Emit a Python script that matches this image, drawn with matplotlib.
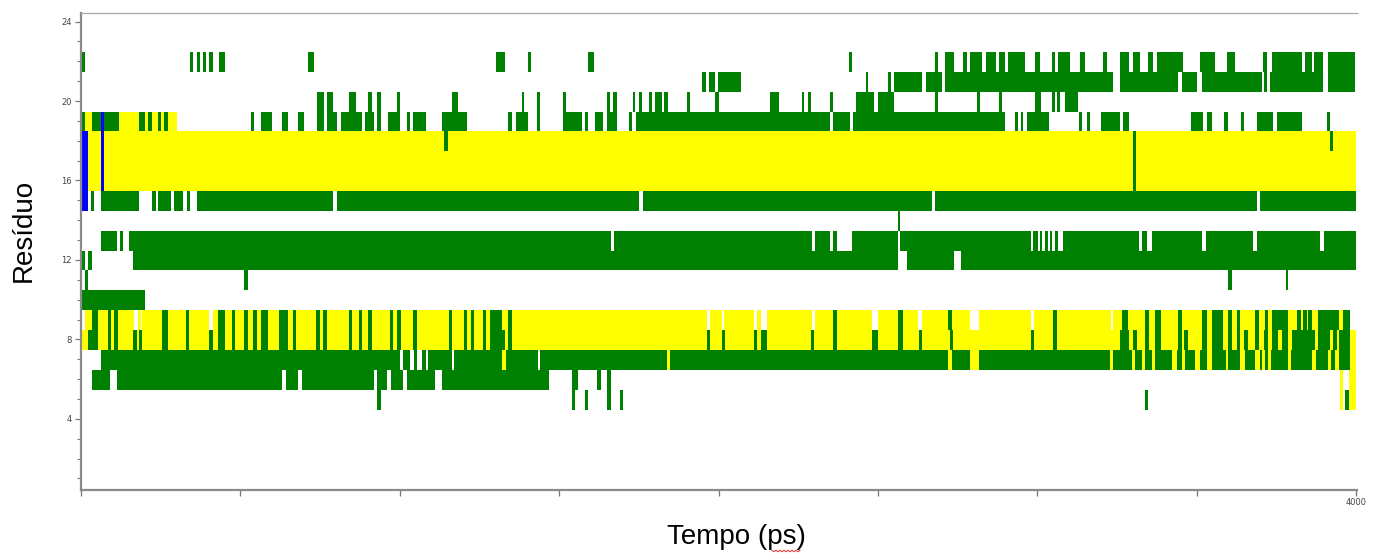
import matplotlib
matplotlib.use("Agg")
import matplotlib.pyplot as plt
from matplotlib.lines import Line2D
import numpy as np

# ---------------- data (time intervals in ps, per residue and state) ----------------
green_22 = [(0,13),(342,351),(364,373),(383,392),(402,414),(433,452),(712,731),(1302,1330),(1402,1412),(1591,1609),
            (2409,2419),(2679,2689),(2711,2739),(2767,2780),(2789,2827),(2839,2871),(2880,2899),(2908,2962),(2993,3009),
            (3046,3056),(3065,3103),(3134,3150),(3206,3219),(3260,3288),(3300,3322),(3347,3363),(3376,3457),(3510,3558),
            (3595,3620),(3708,3721),(3736,3830),(3840,3862),(3868,3896),(3912,3997)]
green_21 = [(1948,1961),(1970,1989),(1998,2070),(2463,2469),(2532,2541),(2550,2638),(2651,2701),(2710,3237),(3259,3441),
            (3454,3501),(3517,3705),(3711,3721),(3730,3896),(3912,3997)]
green_20 = [(740,762),(772,791),(841,863),(900,913),(929,941),(991,1001),(1164,1183),(1383,1390),(1430,1440),(1512,1521),
            (1650,1660),(1669,1681),(1732,1738),(1750,1760),(1782,1791),(1801,1823),(1829,1841),(1901,1910),(1989,2001),
            (2161,2190),(2262,2268),(2281,2290),(2350,2359),(2431,2488),(2500,2550),(2679,2689),(2811,2820),(2880,2889),
            (2993,3012),(3046,3056),(3062,3071),(3087,3128)]
yellow_19 = [(0,301)]
green_19 = [(0,13),(35,63),(72,119),(182,201),(210,223),(242,251),(260,273),(533,543),(565,599),(631,649),(681,700),
            (740,762),(772,803),(816,882),(891,919),(929,941),(963,1001),(1023,1032),(1042,1082),(1132,1211),(1340,1352),
            (1365,1402),(1430,1440),(1512,1572),(1581,1590),(1612,1638),(1650,1681),(1719,1729),(1741,2350),(2359,2412),
            (2422,2899),(2930,2939),(2949,2955),(2968,3037),(3131,3140),(3156,3165),(3200,3259),(3269,3288),(3482,3520),
            (3532,3548),(3586,3598),(3639,3648),(3689,3739),(3752,3830),(3909,3918)]
blue_19 = [(63,72)]
yellow_18 = [(0,4000)]
green_18 = [(1140,1150),(3300,3310),(3918,3928)]
blue_18 = [(0,22),(63,72)]
yellow_17 = [(0,4000)]
green_17 = [(3300,3310)]
blue_17 = [(0,22),(63,72)]
yellow_16 = [(0,4000)]
green_16 = [(3300,3310)]
blue_16 = [(0,22),(63,72)]
green_15 = [(31,41),(63,182),(223,235),(242,282),(292,320),(333,342),(364,791),(803,1750),(1763,2670),(2679,3689),(3699,4000)]
blue_15 = [(0,22)]
green_14 = [(2563,2569)]
green_13 = [(63,113),(122,132),(151,1663),(1672,2293),(2303,2350),(2359,2372),(2419,2563),(2569,2980),(2986,3002),
            (3008,3015),(3024,3034),(3040,3046),(3055,3065),(3081,3319),(3329,3344),(3360,3517),(3529,3677),(3689,3887),
            (3899,4000)]
green_12 = [(0,13),(22,35),(163,2563),(2591,2739),(2761,4000)]
green_11 = [(13,22),(511,524),(3598,3611),(3780,3786)]
green_10 = [(0,201)]
yellow_9 = [(13,166),(179,188),(191,402),(414,1964),(1973,2011),(2017,2111),(2121,2133),(2152,2293),(2303,2481),
            (2500,2626),(2638,2789),(2817,2980),(2990,3231),(3237,3981)]
green_9 = [(35,53),(85,94),(104,116),(254,273),(329,339),(430,452),(474,483),(511,524),(540,552),(565,587),(621,649),
           (665,674),(737,750),(759,772),(841,850),(872,882),(900,913),(969,979),(991,1004),(1042,1054),(1154,1164),
           (1201,1211),(1223,1233),(1261,1271),(1283,1321),(1340,1352),(2359,2372),(2563,2579),(2720,2732),(3049,3062),
           (3266,3285),(3338,3350),(3369,3388),(3441,3454),(3517,3532),(3548,3583),(3598,3611),(3626,3636),(3683,3695),
           (3714,3724),(3736,3786),(3815,3827),(3833,3846),(3849,3862),(3880,3946),(3959,3981)]
yellow_8 = [(0,4000)]
green_8 = [(22,53),(85,94),(104,116),(163,176),(182,191),(254,273),(329,339),(402,414),(430,452),(474,483),(511,524),
           (540,552),(565,587),(621,649),(665,674),(737,750),(759,772),(841,850),(872,882),(900,913),(969,979),(991,1004),
           (1042,1054),(1154,1164),(1201,1211),(1223,1233),(1261,1271),(1283,1330),(1340,1352),(1964,1973),(2011,2020),
           (2111,2121),(2133,2152),(2290,2299),(2359,2372),(2481,2500),(2563,2579),(2629,2638),(2726,2736),(2980,2990),
           (3049,3062),(3259,3288),(3300,3313),(3338,3350),(3369,3388),(3441,3454),(3460,3473),(3517,3532),(3548,3582),
           (3598,3611),(3626,3636),(3648,3661),(3683,3695),(3711,3724),(3736,3755),(3768,3786),(3799,3871),(3880,3918),
           (3928,3940),(3946,3981)]
yellow_7 = [(1321,1333),(1838,1848),(2720,2732),(2789,2817),(3228,4000)]
green_7 = [(63,1001),(1010,1032),(1045,1054),(1070,1082),(1089,1164),(1170,1321),(1333,1434),(1440,1838),(1848,2720),
           (2732,2789),(2817,3228),(3237,3297),(3307,3329),(3338,3360),(3369,3423),(3438,3454),(3463,3495),(3510,3532),
           (3548,3592),(3598,3636),(3652,3683),(3699,3705),(3714,3724),(3733,3786),(3796,3862),(3874,3912),(3921,3934),
           (3946,3981)]
yellow_6 = [(3950,3959),(3978,4000)]
green_6 = [(35,91),(113,631),(643,681),(693,919),(929,960),(973,1010),(1023,1111),(1132,1468),(1540,1559),(1619,1631),
           (1650,1663)]
yellow_5 = [(3950,3959),(3978,4000)]
green_5 = [(929,941),(1540,1550),(1581,1590),(1650,1663),(1691,1700),(3338,3347),(3965,3978)]

x_ticks = [0, 500, 1000, 1500, 2000, 2500, 3000, 3500, 4000]
x_tick_labels = ["", "", "", "", "", "", "", "", "4000"]
y_ticks = [4, 8, 12, 16, 20, 24]

GREEN = "#008000"
YELLOW = "#FFFF00"
BLUE = "#0000FF"

yellow_rows = {19: yellow_19, 18: yellow_18, 17: yellow_17, 16: yellow_16, 9: yellow_9, 8: yellow_8,
               7: yellow_7, 6: yellow_6, 5: yellow_5}
green_rows = {22: green_22, 21: green_21, 20: green_20, 19: green_19, 18: green_18, 17: green_17, 16: green_16,
              15: green_15, 14: green_14, 13: green_13, 12: green_12, 11: green_11, 10: green_10, 9: green_9,
              8: green_8, 7: green_7, 6: green_6, 5: green_5}
blue_rows = {19: blue_19, 18: blue_18, 17: blue_17, 16: blue_16, 15: blue_15}

# ---------------- figure ----------------
W, H = 1379, 554
fig = plt.figure(figsize=(W / 100, H / 100), dpi=100)
ax = fig.add_axes([81 / W, 1 - 490 / H, (1357 - 81) / W, (490 - 13) / H])

def draw(rows, color):
    for res, ivs in rows.items():
        spans = [(a, b - a) for a, b in ivs]
        ax.broken_barh(spans, (res - 0.53, 1.0), facecolors=color, edgecolor="none",
                       linewidth=0, antialiased=False)

draw(yellow_rows, YELLOW)
draw(green_rows, GREEN)
draw(blue_rows, BLUE)

ax.set_xlim(0, 4003)
ax.set_ylim(0.42, 24.43)

ax.set_xticks(x_ticks)
ax.set_xticklabels(x_tick_labels)
ax.set_yticks(y_ticks)
ax.set_yticklabels([str(v) for v in y_ticks])
ax.set_yticks(np.arange(1, 25), minor=True)

for side in ["left", "bottom"]:
    ax.spines[side].set_color("#8a8a8a")
    ax.spines[side].set_linewidth(1.6)
ax.spines["top"].set_color("#a8a8a8")
ax.spines["top"].set_linewidth(0.9)
ax.spines["right"].set_visible(False)

ax.tick_params(axis="y", which="major", length=4.5, width=0.9, color="#777777",
               labelsize=6, labelcolor="#444444", pad=2)
ax.tick_params(axis="y", which="minor", length=2.8, width=0.8, color="#777777")
ax.tick_params(axis="x", which="major", length=4, width=0.9, color="#777777",
               labelsize=6, labelcolor="#444444", pad=1.5)

fig.text(24 / W, 1 - 230 / H, "Resíduo", rotation=90, ha="center", va="center",
         fontsize=20, family=["Liberation Sans", "DejaVu Sans"], color="black")
fig.text(736 / W, 1 - 537 / H, "Tempo (ps)", ha="center", va="center",
         fontsize=20, family=["Liberation Sans", "DejaVu Sans"], color="black")

# spell-check squiggle under "ps"
sx = np.arange(772, 801, 2.0)
sy = 551 + np.where(np.arange(len(sx)) % 2 == 0, -0.8, 0.8)
fig.add_artist(Line2D(sx / W, 1 - sy / H, transform=fig.transFigure, color="#e03030", linewidth=0.7))

fig.savefig("out.png", dpi=100, facecolor="white")
